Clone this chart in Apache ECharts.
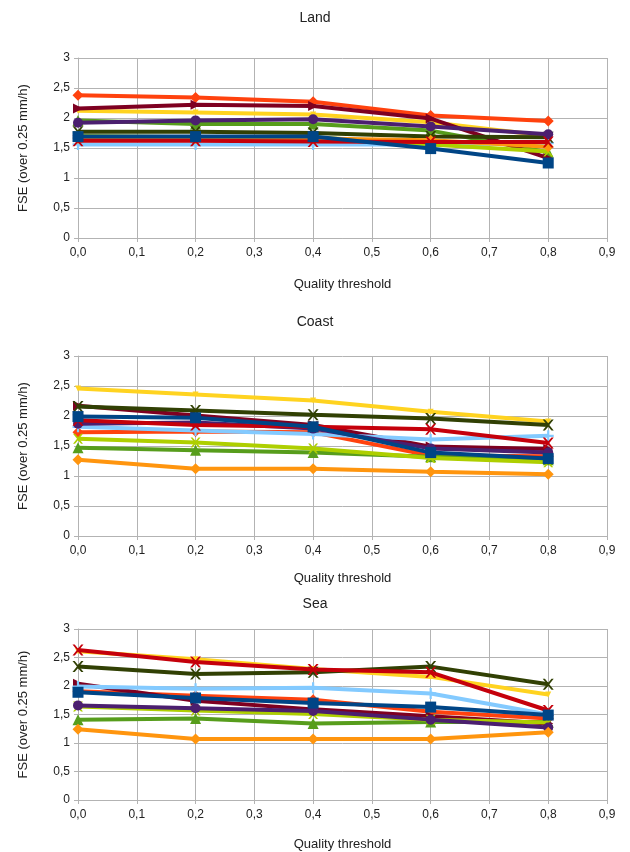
<!DOCTYPE html>
<html>
<head>
<meta charset="utf-8">
<script src="https://cdn.jsdelivr.net/npm/echarts@6/dist/echarts.min.js"></script>
<style>
  html, body { margin: 0; padding: 0; background: #fff; }
  #chart { width: 630px; height: 852px; }
</style>
</head>
<body>
<div id="chart"></div>
<script>
// Quality thresholds (x positions of the points)
const thresholds = [0.0, 0.2, 0.4, 0.6, 0.8];

// Panel titles
const panelTitles = ['Land', 'Coast', 'Sea'];

// Land
const landBlue      = [1.69, 1.69, 1.69, 1.49, 1.25];
const landOrangeRed = [2.38, 2.34, 2.27, 2.04, 1.95];
const landYellow    = [2.12, 2.09, 2.06, 1.93, 1.70];
const landGreen     = [1.96, 1.90, 1.90, 1.79, 1.43];
const landMaroon    = [2.16, 2.22, 2.20, 1.99, 1.33];
const landLightBlue = [1.56, 1.56, 1.56, 1.56, 1.58];
const landOlive     = [1.77, 1.77, 1.75, 1.69, 1.68];
const landLime      = [1.70, 1.68, 1.68, 1.56, 1.44];
const landPurple    = [1.92, 1.96, 1.98, 1.86, 1.73];
const landOrange    = [1.66, 1.66, 1.66, 1.63, 1.52];
const landRed       = [1.62, 1.62, 1.61, 1.60, 1.60];

// Coast
const coastBlue      = [1.99, 1.97, 1.82, 1.39, 1.29];
const coastOrangeRed = [1.73, 1.74, 1.73, 1.34, 1.33];
const coastYellow    = [2.46, 2.36, 2.26, 2.07, 1.91];
const coastGreen     = [1.47, 1.43, 1.39, 1.32, 1.27];
const coastMaroon    = [2.17, 2.01, 1.85, 1.49, 1.45];
const coastLightBlue = [1.82, 1.76, 1.70, 1.61, 1.67];
const coastOlive     = [2.16, 2.09, 2.02, 1.96, 1.85];
const coastLime      = [1.62, 1.56, 1.46, 1.30, 1.23];
const coastPurple    = [1.87, 1.89, 1.79, 1.46, 1.39];
const coastOrange    = [1.27, 1.12, 1.12, 1.07, 1.03];
const coastRed       = [1.93, 1.85, 1.82, 1.78, 1.55];

// Sea
const seaBlue      = [1.89, 1.79, 1.70, 1.63, 1.49];
const seaOrangeRed = [1.91, 1.83, 1.76, 1.55, 1.43];
const seaYellow    = [2.61, 2.47, 2.30, 2.16, 1.85];
const seaGreen     = [1.41, 1.43, 1.34, 1.37, 1.37];
const seaMaroon    = [2.04, 1.74, 1.59, 1.47, 1.34];
const seaLightBlue = [1.99, 1.95, 1.97, 1.87, 1.50];
const seaOlive     = [2.34, 2.21, 2.24, 2.34, 2.03];
const seaLime      = [1.64, 1.57, 1.51, 1.41, 1.36];
const seaPurple    = [1.66, 1.61, 1.56, 1.41, 1.27];
const seaOrange    = [1.24, 1.07, 1.07, 1.07, 1.19];
const seaRed       = [2.63, 2.42, 2.29, 2.24, 1.57];

const panelData = [
  [landOrangeRed, landYellow, landGreen, landMaroon, landLightBlue, landOlive, landLime, landPurple, landOrange, landRed, landBlue],
  [coastOrangeRed, coastYellow, coastGreen, coastMaroon, coastLightBlue, coastOlive, coastLime, coastPurple, coastOrange, coastRed, coastBlue],
  [seaOrangeRed, seaYellow, seaGreen, seaMaroon, seaLightBlue, seaOlive, seaLime, seaPurple, seaOrange, seaRed, seaBlue]
];

// Line colours and marker shapes, same order as panelData rows
const crossPath = 'path://M0,0 L2,0 L5,3.5 L8,0 L10,0 L6,5 L10,10 L8,10 L5,6.5 L2,10 L0,10 L4,5 Z';
const styles = [
  { color: '#ff420e', symbol: 'diamond', size: 11 },
  { color: '#ffd320', symbol: 'path://M0,0 L10,0 L5,8 Z', size: 6 },
  { color: '#579d1c', symbol: 'triangle', size: 11 },
  { color: '#7e0021', symbol: 'path://M0,0 L10,5 L0,10 Z', size: 10 },
  { color: '#83caff', symbol: 'path://M4,0 H6 V4 H10 V6 H6 V10 H4 V6 H0 V4 H4 Z', size: 11 },
  { color: '#314004', symbol: crossPath, size: 11 },
  { color: '#aecf00', symbol: crossPath, size: 10 },
  { color: '#4b1f6f', symbol: 'circle', size: 10 },
  { color: '#ff950e', symbol: 'diamond', size: 11 },
  { color: '#c5000b', symbol: crossPath, size: 11 },
  { color: '#004586', symbol: 'rect', size: 11 }
];

const grids = [
  { left: 78, right: 23, top: 58, height: 180 },
  { left: 78, right: 23, top: 356, height: 180 },
  { left: 78, right: 23, top: 629, height: 175 }
];

const titleTops = [6, 310, 592];
const xNameGaps = [40, 36, 38];

const fmt = v => v.toFixed(1).replace('.', ',');
const fmtY = v => (Number.isInteger(v) ? String(v) : String(v).replace('.', ','));

const gridColor = '#b3b3b3';
const fontFam = '"Liberation Sans", Arial, sans-serif';

const option = {
  animation: false,
  backgroundColor: '#ffffff',
  title: panelTitles.map((t, i) => ({
    text: t, left: 'center', top: titleTops[i],
    textStyle: { fontFamily: fontFam, fontSize: 14, fontWeight: 'normal', color: '#222' }
  })),
  grid: grids,
  xAxis: grids.map((g, i) => ({
    gridIndex: i, type: 'value', min: 0, max: 0.9, interval: 0.1,
    name: 'Quality threshold', nameLocation: 'middle', nameGap: xNameGaps[i],
    nameTextStyle: { fontFamily: fontFam, fontSize: 13, color: '#222' },
    axisLine: { show: true, lineStyle: { color: gridColor, width: 1 } },
    axisTick: { show: true, length: 4, lineStyle: { color: gridColor } },
    axisLabel: { formatter: fmt, fontFamily: fontFam, fontSize: 12, color: '#222', margin: 9 },
    splitLine: { show: true, lineStyle: { color: gridColor, width: 1 } }
  })),
  yAxis: grids.map((g, i) => ({
    gridIndex: i, type: 'value', min: 0, max: 3, interval: 0.5,
    name: 'FSE (over 0.25 mm/h)', nameLocation: 'middle', nameGap: 48,
    nameTextStyle: { fontFamily: fontFam, fontSize: 13, color: '#222' },
    axisLine: { show: true, lineStyle: { color: gridColor, width: 1 } },
    axisTick: { show: true, length: 4, lineStyle: { color: gridColor } },
    axisLabel: { formatter: fmtY, fontFamily: fontFam, fontSize: 12, color: '#222', margin: 8 },
    splitLine: { show: true, lineStyle: { color: gridColor, width: 1 } }
  })),
  series: []
};

panelData.forEach((rows, p) => {
  rows.forEach((vals, s) => {
    const st = styles[s];
    option.series.push({
      type: 'line',
      xAxisIndex: p, yAxisIndex: p,
      data: thresholds.map((x, k) => [x, vals[k]]),
      symbol: st.symbol, symbolSize: st.size,
      showAllSymbol: true,
      lineStyle: { color: st.color, width: 4 },
      itemStyle: { color: st.color, borderWidth: 0 },
      z: 2 + s
    });
  });
});

const chart = echarts.init(document.getElementById('chart'), null, { renderer: 'canvas' });
chart.setOption(option);
</script>
</body>
</html>
